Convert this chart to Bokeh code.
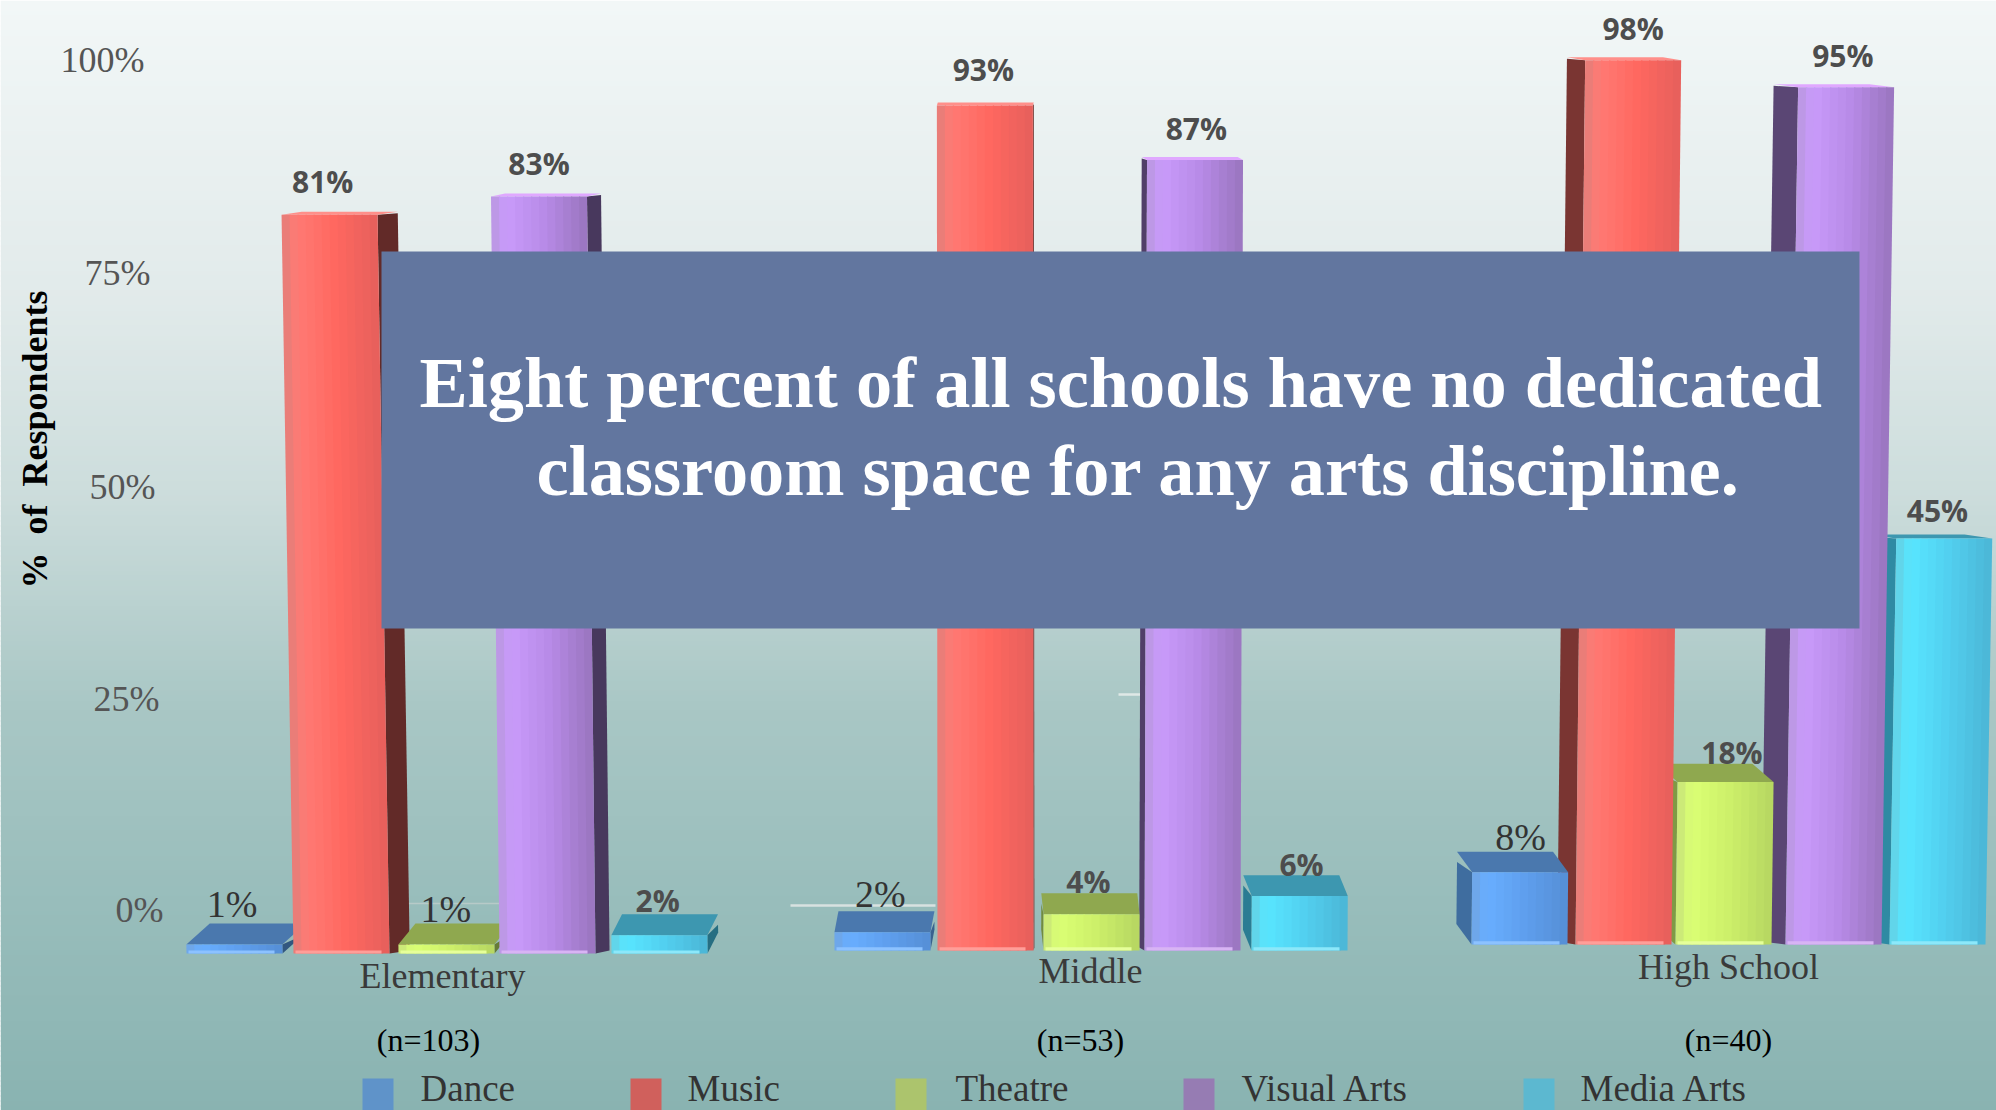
from bokeh.plotting import figure
from bokeh.models import Range1d
from bokeh.core.properties import value
from bokeh.embed import file_html
from bokeh.resources import INLINE
import math

# ---------- data ----------
groups = ["Elementary", "Middle", "High School"]
sample_sizes = ["(n=103)", "(n=53)", "(n=40)"]
series = ["Dance", "Music", "Theatre", "Visual Arts", "Media Arts"]
dance = [1, 2, 8]
music = [81, 93, 98]
theatre = [1, 4, 18]
visual_arts = [83, 87, 95]
media_arts = [2, 6, 45]
y_tick_labels = ["100%", "75%", "50%", "25%", "0%"]
y_title = "%\u00a0\u00a0of\u00a0\u00a0Respondents"
note_lines = ["Eight percent of all schools have no dedicated",
              "classroom space for any arts discipline."]
values = [dance, music, theatre, visual_arts, media_arts]

# ---------- style / layout ----------
PX_PER_UNIT = 9.05
group_base = [-1.0, -0.66, 0.0]
group_stretch = [1.008, 1.004, 0.997]
front_left = [[186, 293, 398, 499, 611],
              [834, 937, 1043, 1144, 1251],
              [1471, 1575, 1675, 1785, 1889]]
bar_w = [96, 96, 96, 96, 96]
front_cols = [["#68aeff", "#5f9fee", "#5690d8"],
              ["#ff7a74", "#ff6860", "#e8605c"],
              ["#dbff74", "#cdf06a", "#b8d862"],
              ["#c99bfb", "#b88be8", "#9c77c2"],
              ["#58e6ff", "#52d0f0", "#4cb8d8"]]
top_dark = ["#4a78ae", "#a84a46", "#8fa84f", "#7b5fa8", "#3d97b0"]
top_light = ["#78b8ff", "#ff8f8a", "#e4ff8c", "#e0a8ff", "#45b8d4"]
side_cols = ["#3f6d9f", "#7a3532", "#7f9a45", "#5a4674", "#2f8aa3"]
side_shade = [.2, .1, 0]
base_light = ["#8cc2ff", "#ff9e99", "#e6ff9a", "#d8b4f4", "#8ce8fa"]
label_fonts = [["Liberation Serif", "Liberation Serif", "Liberation Serif"],
               ["Open Sans", "Open Sans", "Open Sans"],
               ["Liberation Serif", "Open Sans", "Open Sans"],
               ["Open Sans", "Open Sans", "Open Sans"],
               ["Open Sans", "Open Sans", "Open Sans"]]
label_offsets = [[(-14, -19), (-4, -17), (8, -15)],
                 [(-17, -30), (-2, -33), (9, -29)],
                 [(-9, -14), (-2, -12), (17, -11)],
                 [(-7, -30), (4, -28), (9, -29)],
                 [(-7, -14), (6, -11), (7, -24)]]
bg_stops = [(0, "#f2f7f7"), (300, "#e1eaea"), (500, "#cbdcdb"), (700, "#a9c7c5"),
            (900, "#98bdbb"), (1110, "#89b3b1")]
swatch_cols = ["#5f93c9", "#d0605c", "#acc46d", "#967cb3", "#5cb8d0"]

X0, X1, Y0, Y1 = 0, 1996, 0, 1110
ZERO_PX = 944
CENTER_X = 1015


def hex2(c):
    return [int(c[i:i + 2], 16) for i in (1, 3, 5)]


def mix(a, b, t):
    a, b = hex2(a), hex2(b)
    return "#%02x%02x%02x" % tuple(round(a[i] + (b[i] - a[i]) * t) for i in range(3))


def ramp(stops, t):
    for (t0, c0), (t1, c1) in zip(stops, stops[1:]):
        if t <= t1:
            return mix(c0, c1, (t - t0) / (t1 - t0))
    return stops[-1][1]


p = figure(width=1996, height=1110, output_backend="svg", toolbar_location=None,
           x_range=Range1d(X0, X1),
           y_range=Range1d((ZERO_PX - Y1) / PX_PER_UNIT, (ZERO_PX - Y0) / PX_PER_UNIT),
           x_axis_location=None, y_axis_location=None, min_border=0, outline_line_color=None)
p.grid.visible = False
p.extra_y_ranges = {"px": Range1d(Y1, Y0)}

# background
bands = list(range(0, 1112, 5))
p.quad(left=X0, right=X1, top=bands, bottom=[b + 6 for b in bands],
       fill_color=[ramp(bg_stops, min(b, 1110)) for b in bands], line_color=None,
       y_range_name="px")

# remnants of gridlines
p.segment(x0=[400, 790, 1118], x1=[505, 935, 1142], y0=[903, 905, 694], y1=[903, 905, 694],
          line_color=["#b7cac8", "#d8e2e0", "#dfe8e6"], line_width=[1.5, 2.5, 2.5], y_range_name="px")

# bars, farthest from centre first
bars = [(abs(front_left[g][s] + 48 - CENTER_X), g, s) for g in range(3) for s in range(5)]
for _, g, s in sorted(bars, reverse=True):
    v = values[s][g]
    y0 = group_base[g]
    y1 = y0 + v * group_stretch[g]
    h_px = (y1 - y0) * PX_PER_UNIT
    xb = front_left[g][s]
    w = bar_w[s]
    xmid = xb + w / 2
    shift = (xmid - CENTER_X) * h_px * (2.4e-5 if xmid < CENTER_X else 1.8e-5)
    xt = xb + shift
    side = (CENTER_X - xmid) * 0.03
    depth = max(3, 21 * (1 - (v / 50) ** 2))
    du = depth / PX_PER_UNIT
    tall = v >= 50
    side_c = mix(side_cols[s], "#000000", side_shade[g])
    # side face
    if side > 0:
        p.patch([xb + w, xt + w, xt + w + side, xb + w + side],
                [y0, y1, y1 + du * .5, y0 + du], fill_color=side_c, line_color=None)
    else:
        p.patch([xb, xt, xt + side, xb + side],
                [y0, y1, y1 + du * .5, y0 + du], fill_color=side_c, line_color=None)
    # top face
    top_c = top_light[s] if tall else top_dark[s]
    p.patch([xt, xt + w, xt + w + side, xt + side],
            [y1, y1, y1 + du, y1 + du], fill_color=top_c, line_color=None)
    # front face, as strips for the shading
    n = 12
    for i in range(n):
        a, b = i / n, (i + 1.15) / n
        t = i / (n - 1)
        c = ramp([(0, mix(front_cols[s][0], "#888888", .18)), (.12, front_cols[s][0]),
                  (.55, front_cols[s][1]), (1, front_cols[s][2])], t)
        p.patch([xb + a * w, xt + a * w, xt + min(b, 1) * w, xb + min(b, 1) * w],
                [y0, y1, y1, y0], fill_color=c, line_color=None)
    # pale base strip
    p.patch([xb + 2, xb + w - 8, xb + w - 8, xb + 2],
            [y0, y0, y0 + .35, y0 + .35], fill_color=base_light[s], line_color=None)
    # value label
    dx, dy = label_offsets[s][g]
    lab_y = y1 + (depth - dy) / PX_PER_UNIT
    is_serif = label_fonts[s][g] == "Liberation Serif"
    p.text(x=[xt + w / 2 + side / 2 + dx], y=[lab_y], text=[f"{v}%"], text_align="center",
           text_baseline="middle", text_font=value(label_fonts[s][g]),
           text_font_size=value("38px" if is_serif else "30px"),
           text_font_style="normal" if is_serif else "bold",
           text_color="#333333" if is_serif else "#4d4d4d")

# y tick labels (they follow the tilted picture)
tick_right = [144, 150, 155, 159, 163]
tick_y = [59, 272, 486, 698, 909]
p.text(x=tick_right, y=tick_y, text=y_tick_labels, text_align="right", text_baseline="middle",
       text_font=value("Liberation Serif"), text_font_size=value("36px"), text_color="#555555",
       y_range_name="px")

# y title
p.text(x=[34], y=[439], text=[y_title], angle=math.pi / 2, text_align="center",
       text_baseline="middle", text_font=value("Liberation Serif"), text_font_style="bold",
       text_font_size=value("36px"), text_color="#000000", y_range_name="px")

# category labels
p.text(x=[442, 1090, 1728], y=[975, 970, 966], text=groups, text_align="center", text_baseline="middle",
       text_font=value("Liberation Serif"), text_font_size=value("36px"), text_color="#3a3a3a",
       y_range_name="px")
p.text(x=[428, 1080, 1728], y=[1039, 1039, 1039], text=sample_sizes, text_align="center",
       text_baseline="middle", text_font=value("Liberation Serif"), text_font_size=value("32px"),
       text_color="#000000", y_range_name="px")

# legend
swatch_x = [362, 630, 895, 1183, 1523]
legend_x = [420, 687, 955, 1241, 1580]
p.quad(left=swatch_x, right=[x + 31 for x in swatch_x], top=[1078] * 5, bottom=[1110] * 5,
       fill_color=swatch_cols, line_color=None, y_range_name="px")
p.text(x=legend_x, y=[1088] * 5, text=series, text_align="left", text_baseline="middle",
       text_font=value("Liberation Serif"), text_font_size=value("37px"), text_color="#333333",
       y_range_name="px")

# overlay note
p.quad(left=[381], right=[1859], top=[251], bottom=[628], fill_color="#62769f", line_color=None,
       y_range_name="px")
p.text(x=[419, 536], y=[382, 470], text=note_lines, text_align="left", text_baseline="middle",
       text_font=value("Liberation Serif"), text_font_style="bold", text_font_size=value("72.3px"),
       text_color="#ffffff", y_range_name="px")

open("out.html", "w").write(file_html(p, INLINE))
